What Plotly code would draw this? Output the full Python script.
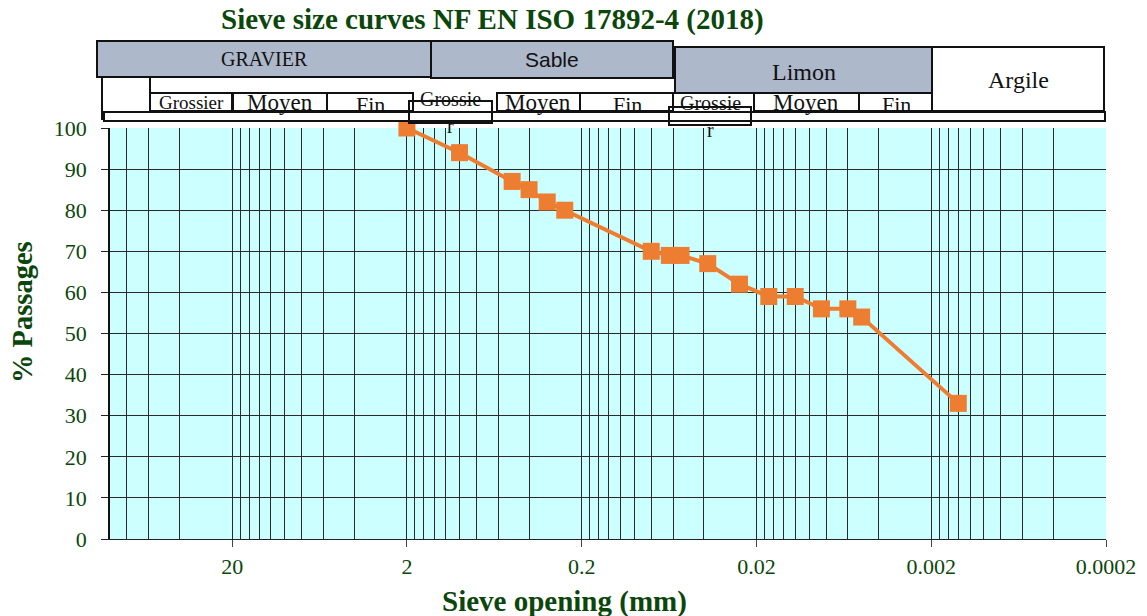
import plotly.graph_objects as go
import math

# ---------------- data ----------------
sieve_mm = [2, 1, 0.5, 0.4, 0.315, 0.25, 0.08, 0.063, 0.054, 0.038,
            0.025, 0.017, 0.012, 0.0085, 0.006, 0.005, 0.0014]
passing_pct = [100, 94, 87, 85, 82, 80, 70, 69, 69, 67,
               62, 59, 59, 56, 56, 54, 33]

x_tick_vals = [20, 2, 0.2, 0.02, 0.002, 0.0002]
x_tick_text = ["20", "2", "0.2", "0.02", "0.002", "0.0002"]
y_tick_vals = [0, 10, 20, 30, 40, 50, 60, 70, 80, 90, 100]
minor_multipliers = [2, 3, 4, 5, 6, 7, 8, 9]   # minor gridlines: 0.0002 * m * 10^k

title_text = "Sieve size curves NF EN ISO 17892-4 (2018)"
x_title = "Sieve opening (mm)"
y_title = "% Passages"

# ---------------- styling ----------------
W, H = 1147, 616
L, R, T, B = 110, 41, 128, 77
PW, PH = W - L - R, H - T - B
GREEN = "#0b460b"
ORANGE = "#ED7D31"
HEAD_FILL = "#adb8cb"
SERIF = "Liberation Serif"
SANS = "Liberation Sans"


def px(xpx):
    return (xpx - L) / PW


def py(ypx):
    return (H - B - ypx) / PH


minor_vals = []
for k in range(0, 6):
    for m in minor_multipliers:
        v = 0.0002 * m * 10 ** k
        if v <= 100.0001:
            minor_vals.append(v)

fig = go.Figure()
fig.add_trace(go.Scatter(
    x=sieve_mm, y=passing_pct, mode="lines+markers",
    line=dict(color=ORANGE, width=4),
    marker=dict(symbol="square", size=17, color=ORANGE),
    cliponaxis=False, showlegend=False,
))

fig.update_layout(
    width=W, height=H,
    margin=dict(l=L, r=R, t=T, b=B, autoexpand=False),
    paper_bgcolor="white", plot_bgcolor="#ccffff",
    font=dict(family=SERIF, color=GREEN),
    showlegend=False,
    xaxis=dict(
        type="log", range=[math.log10(100), math.log10(0.0002)],
        tickmode="array", tickvals=x_tick_vals, ticktext=x_tick_text,
        ticks="outside", ticklen=7, tickcolor="#444", tickwidth=1,
        ticklabelstandoff=1,
        tickfont=dict(family=SERIF, size=22, color=GREEN),
        showgrid=True, gridcolor="#2a2a2a", gridwidth=1,
        minor=dict(tickmode="array", tickvals=minor_vals, showgrid=True,
                   gridcolor="#2a2a2a", gridwidth=1, ticks=""),
        showline=True, linecolor="#222", linewidth=1, mirror=False,
        zeroline=False,
    ),
    yaxis=dict(
        range=[0, 100], tickmode="array", tickvals=y_tick_vals,
        ticks="outside", ticklen=7, tickcolor="#222", tickwidth=1,
        ticklabelstandoff=10,
        tickfont=dict(family=SERIF, size=22, color=GREEN),
        showgrid=True, gridcolor="#2a2a2a", gridwidth=1,
        showline=True, linecolor="#111", linewidth=1.5,
        zeroline=False,
    ),
)

shapes = []


def box(x0, x1, y0, y1, fill="white", lw=2):
    shapes.append(dict(type="rect", xref="paper", yref="paper",
                       x0=px(x0), x1=px(x1), y0=py(y1), y1=py(y0),
                       fillcolor=fill, line=dict(color="#111", width=lw),
                       layer="above"))


# header boxes (pixel geometry of the classification banner)
box(97, 431, 41, 77, HEAD_FILL)
box(431, 673, 41, 78, HEAD_FILL)
box(675, 932, 47, 93, HEAD_FILL)
box(932, 1104, 47, 111, "white")
box(102, 150, 77, 119)
box(104, 1105, 112, 121)
box(150, 232, 93, 111)
box(233, 327, 93, 111)
box(327, 413, 93, 111)
box(497, 580, 93, 111)
box(580, 673, 93, 111)
box(754, 859, 93, 111)
box(859, 932, 93, 111)
box(409, 492, 101, 123, "rgba(0,0,0,0)")
box(669, 751, 107, 125, "rgba(0,0,0,0)")
fig.update_layout(shapes=shapes)

ann = []


def label(text, xpx, ypx, size, family=SERIF, color="#111", bold=False, angle=0):
    if bold:
        text = "<b>" + text + "</b>"
    ann.append(dict(text=text, xref="paper", yref="paper", x=px(xpx), y=py(ypx),
                    xanchor="center", yanchor="middle", showarrow=False,
                    textangle=angle,
                    font=dict(family=family, size=size, color=color)))


label("GRAVIER", 264, 59, 20)
label("Sable", 552, 60, 21, family=SANS)
label("Limon", 804, 72, 24)
label("Argile", 1018, 80, 24)
label("Grossier", 191, 102, 19)
label("Moyen", 280, 103, 23)
label("Fin", 370, 104, 22)
label("Grossie", 450, 99, 20)
label("r", 450, 126, 20)
label("Moyen", 538, 103, 23)
label("Fin", 627, 104, 22)
label("Grossie", 710, 103, 20)
label("r", 710, 130, 20)
label("Moyen", 806, 103, 23)
label("Fin", 896, 104, 22)

label(title_text, 492, 19, 29, color=GREEN, bold=True)
label(x_title, 564, 601, 29, color=GREEN, bold=True)
label(y_title, 22, 312, 28.5, color=GREEN, bold=True, angle=-90)
fig.update_layout(annotations=ann)

fig.write_html("out.html")
